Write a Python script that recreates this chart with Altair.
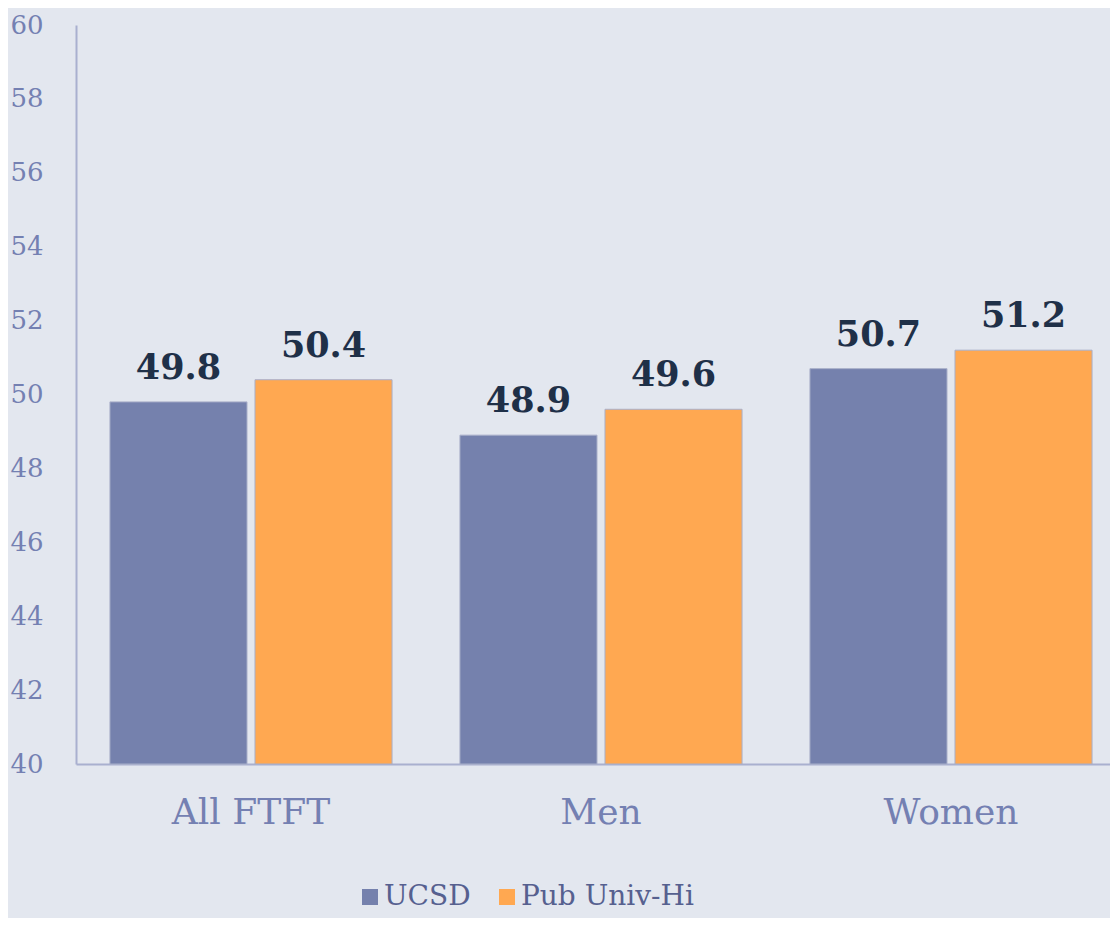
import altair as alt
import pandas as pd

categories = ["All FTFT", "Men", "Women"]
series = ["UCSD", "Pub Univ-Hi"]
ucsd = [49.8, 48.9, 50.7]
pub_univ_hi = [50.4, 49.6, 51.2]
y_ticks = [40, 42, 44, 46, 48, 50, 52, 54, 56, 58, 60]
y_min, y_max = 40, 60

rows = []
for i, c in enumerate(categories):
    rows.append({"cat": c, "series": series[0], "value": ucsd[i]})
    rows.append({"cat": c, "series": series[1], "value": pub_univ_hi[i]})
df = pd.DataFrame(rows)

SERIF = "DejaVu Serif"
BG = "#E3E7EF"

x_enc = alt.X(
    "cat:N",
    sort=categories,
    title=None,
    scale=alt.Scale(range=[0, 1050], paddingInner=0.194, paddingOuter=0.097),
    axis=alt.Axis(
        labelAngle=0,
        labelFont=SERIF,
        labelFontSize=36,
        labelColor="#7480B2",
        labelPadding=31,
        ticks=False,
        domainColor="#A9B0CF",
        domainWidth=2,
        grid=False,
    ),
)
xoff = alt.XOffset("series:N", sort=series, scale=alt.Scale(paddingInner=0.055, paddingOuter=0))
y_enc = alt.Y(
    "value:Q",
    title=None,
    scale=alt.Scale(domain=[y_min, y_max], zero=False, nice=False),
    axis=alt.Axis(
        values=y_ticks,
        labelFont=SERIF,
        labelFontSize=26,
        labelColor="#7480B2",
        labelPadding=33,
        ticks=False,
        domainColor="#A9B0CF",
        domainWidth=2,
        grid=False,
    ),
)

bars = alt.Chart(df).mark_bar(stroke="#A9AFC9", strokeWidth=1).encode(
    x=x_enc,
    xOffset=xoff,
    y=y_enc,
    y2=alt.datum(y_min),
    color=alt.Color(
        "series:N",
        sort=series,
        scale=alt.Scale(domain=series, range=["#7581AD", "#FFA851"]),
        legend=alt.Legend(
            title=None,
            orient="none",
            legendX=280,
            legendY=858,
            direction="horizontal",
            symbolType="square",
            symbolSize=256,
            symbolStrokeWidth=0,
            symbolOpacity=1,
            labelFont=SERIF,
            labelFontSize=28,
            labelColor="#56608F",
            labelOffset=0,
            labelLimit=0,
            columnPadding=22,
            padding=0,
        ),
    ),
)

labels = alt.Chart(df).mark_text(
    font=SERIF,
    fontSize=35,
    fontWeight="bold",
    color="#1F3048",
    baseline="alphabetic",
    dy=-23,
).encode(
    x=alt.X("cat:N", sort=categories),
    xOffset=alt.XOffset("series:N", sort=series),
    y="value:Q",
    text=alt.Text("value:Q", format=".1f"),
)

chart = (
    alt.layer(bars, labels)
    .properties(
        width=1034,
        height=739,
        background=BG,
        autosize=alt.AutoSizeParams(type="none"),
        padding={"left": 68, "top": 17, "right": 0, "bottom": 154},
    )
    .configure_view(stroke=None, fill=BG)
)

chart.save("out.html", embed_options={"renderer": "svg", "actions": False})
